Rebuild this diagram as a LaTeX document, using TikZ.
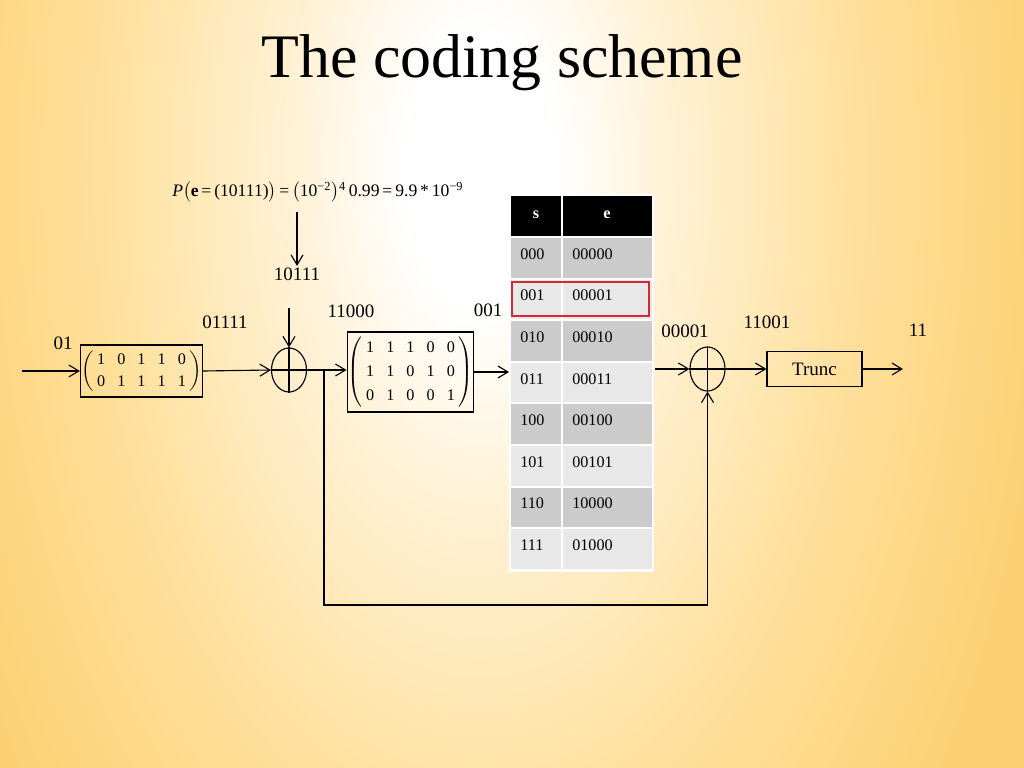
\documentclass[tikz,border=0pt]{standalone}
\usepackage{amsmath}
\usepackage{fontspec}
\setmainfont{Liberation Serif}
\usetikzlibrary{arrows.meta,shapes.geometric}

\definecolor{bgorange}{RGB}{253,208,115}
\definecolor{bglight}{RGB}{255,241,212}
\definecolor{bgmid}{RGB}{254,224,155}
\definecolor{rowdark}{RGB}{203,203,203}
\definecolor{rowlight}{RGB}{232,232,232}
\definecolor{markred}{RGB}{214,40,48}

\pgfdeclareradialshading{slidebg}{\pgfpoint{0bp}{0bp}}{color(0bp)=(white); color(3.4bp)=(white); color(8.6bp)=(bglight); color(17bp)=(bgmid); color(25.7bp)=(bgorange); color(50bp)=(bgorange)}

\newcommand{\lblfont}{\fontsize{13.5}{16}\selectfont}
\newcommand{\tabfont}{\fontsize{11.5}{14}\selectfont}

\tikzset{
  lbl/.style={font=\lblfont, inner sep=1pt},
  cell/.style={font=\tabfont, anchor=west, inner sep=0pt},
  matbox/.style={draw, line width=0.8pt, inner sep=0.5pt},
  xor/.style={draw, ellipse, line width=0.8pt, minimum width=0.875cm, minimum height=1.1cm, inner sep=0pt},
  arr/.style={line width=0.8pt, -{Straight Barb[length=2.5mm,width=3mm]}},
  wire/.style={line width=0.8pt},
}

\begin{document}
\begin{tikzpicture}[x=0.025cm,y=-0.025cm]

    % Background
    \useasboundingbox (0,0) rectangle (1024,768);
    \begin{scope}
      \clip (0,0) rectangle (1024,768);
      \fill[bgorange] (0,0) rectangle (1024,768);
      \shade[shading=slidebg] (-80,-820) rectangle (1040,1160);
    \end{scope}

    % Title and formula
    \node[font=\fontsize{44}{50}\selectfont] (title) at (502,63) {The coding scheme};
    \node[anchor=west, font=\fontsize{12.5}{14}\selectfont, inner sep=0pt] (frm) at (172,192)
      {\textit{P}$\bigl($\textbf{e}\,=\,(10111)$\bigr)$\,=\,$\bigl($10\textsuperscript{−2}$\bigr)$\textsuperscript{4}\,0.99\,=\,9.9\,*\,10\textsuperscript{−9}};

    % Nodes
    \node[lbl] (l10111) at (297,274) {10111};
    \node[lbl] (l01) at (63,343) {01};
    \node[lbl] (l01111) at (225,322) {01111};
    \node[lbl] (l11000) at (351,311) {11000};
    \node[lbl] (l001) at (488,310) {001};
    \node[lbl] (l00001) at (685,331) {00001};
    \node[lbl] (l11001) at (767,322) {11001};
    \node[lbl] (l11) at (918,330) {11};

    \node[matbox, minimum width=3.03cm, minimum height=1.3cm, font=\fontsize{11.5}{15.6}\selectfont] (m1) at (141.5,371)
      {$\left(\setlength{\tabcolsep}{4.3pt}\begin{tabular}{@{\hspace{2.5pt}}ccccc@{\hspace{2.5pt}}}1&0&1&1&0\\0&1&1&1&1\end{tabular}\right)$};
    \node[xor] (x1) at (289,370) {};
    \node[matbox, minimum width=3.125cm, minimum height=2cm, font=\fontsize{11.5}{17}\selectfont] (m2) at (410.5,372)
      {$\left(\setlength{\tabcolsep}{4.3pt}\begin{tabular}{@{\hspace{2.5pt}}ccccc@{\hspace{2.5pt}}}1&1&1&0&0\\1&1&0&1&0\\0&1&0&0&1\end{tabular}\right)$};
    \node[xor] (x2) at (707.5,369) {};
    \node[draw, line width=0.8pt, minimum width=2.375cm, minimum height=0.875cm, font=\lblfont] (trunc) at (814.5,369) {Trunc};

    \coordinate (pin) at (297,212);
    \coordinate (ein) at (289,308);
    \coordinate (src) at (22,371);
    \coordinate (br) at (324,370);
    \coordinate (out) at (903,369);

    % Table
    \node[fill=white, anchor=north west, minimum width=3.625cm, minimum height=9.45cm, inner sep=0pt] (tbl) at (509,194) {};
    \fill[black] (511,196) rectangle (561,236);
    \fill[black] (563,196) rectangle (652,236);
    \node[font=\tabfont\bfseries, text=white] (hs) at (536,215) {s};
    \node[font=\tabfont\bfseries, text=white] (he) at (607,215) {e};
    \foreach \s/\e/\c [count=\i] in {000/00000/rowdark, 001/00001/rowlight, 010/00010/rowdark, 011/00011/rowlight,
                                    100/00100/rowdark, 101/00101/rowlight, 110/10000/rowdark, 111/01000/rowlight}{
      \pgfmathsetmacro{\ytop}{238+41.6*(\i-1)}
      \fill[\c] (511,\ytop) rectangle (561,\ytop+39.6);
      \fill[\c] (563,\ytop) rectangle (652,\ytop+39.6);
      \node[cell] (s\i) at (520,\ytop+16) {\s};
      \node[cell] (e\i) at (572,\ytop+16) {\e};
    }
    \draw[markred, line width=0.8pt] (512,282) rectangle (649,316);

    % Edges
    \draw[wire] (x1.north) -- (x1.south);
    \draw[wire] (x1.west) -- (x1.east);
    \draw[wire] (x2.north) -- (x2.south);
    \draw[wire] (x2.west) -- (x2.east);

    \draw[arr] (pin) -- (l10111.north);
    \draw[arr] (ein) -- (x1.north);
    \draw[arr] (src) -- (m1.west);
    \draw[arr] (m1.east) -- (x1.west);
    \draw[arr] (x1.east) -- (x1.east -| m2.west);
    \draw[arr] (m2.east) -- (m2.east -| tbl.west);
    \draw[arr] (x2.west -| tbl.east) -- (x2.west);
    \draw[arr] (x2.east) -- (trunc.west);
    \draw[arr] (trunc.east) -- (out);
    \draw[arr] (br) -- ++(0,235) -| (x2.south);

\end{tikzpicture}
\end{document}
